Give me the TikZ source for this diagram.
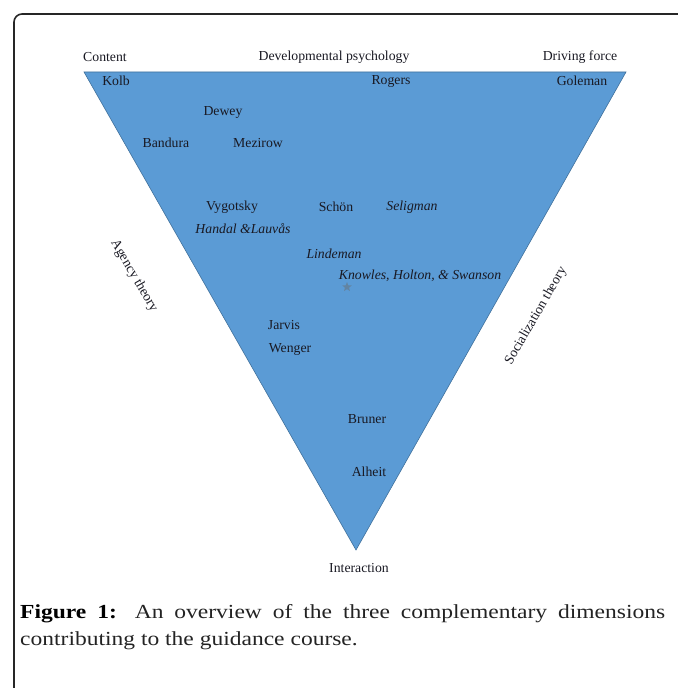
\documentclass[tikz,border=0pt]{standalone}
\usepackage{fontspec}
\setmainfont{Liberation Serif}
\newfontfamily\capfont[FakeStretch=1.18]{Liberation Serif}
\usetikzlibrary{shapes.geometric}
\definecolor{triblue}{RGB}{91,155,213}
\definecolor{triedge}{RGB}{65,113,156}
\definecolor{txt}{RGB}{25,25,35}
\definecolor{captxt}{RGB}{35,35,35}
\begin{document}
\begin{tikzpicture}[x=1bp,y=-1bp,
  lbl/.style={inner sep=0pt, text=txt, font=\fontsize{13.8}{16}\selectfont},
  ilbl/.style={lbl, font=\fontsize{13.8}{16}\selectfont\itshape},
  frameline/.style={line width=1.6bp, draw=black!85, rounded corners=8bp}]
\useasboundingbox (0,0) rectangle (678,688);
\draw[frameline] (14,688) -- (14,14) -- (678,14);
\fill[triblue, draw=triedge, line width=0.6bp] (84,72) -- (626,72) -- (356,550) -- cycle;
% dimension labels
\node[lbl] (content) at (105,57) {Content};
\node[lbl] (devpsy) at (334,57) {Developmental psychology};
\node[lbl] (driving) at (580,57) {Driving force};
\node[lbl] (interaction) at (359,568) {Interaction};
\node[lbl, rotate=-60] (agency) at (134,276) {Agency theory};
\node[lbl, rotate=60] (social) at (536,316) {Socialization theory};
% names
\node[lbl] (kolb) at (116,81) {Kolb};
\node[lbl] (rogers) at (391,81) {Rogers};
\node[lbl] (goleman) at (582,81) {Goleman};
\node[lbl] (dewey) at (223,112) {Dewey};
\node[lbl] (bandura) at (166,143) {Bandura};
\node[lbl] (mezirow) at (258,143) {Mezirow};
\node[lbl] (vygotsky) at (232,207) {Vygotsky};
\node[lbl] (schon) at (336,207) {Schön};
\node[ilbl] (seligman) at (412,207) {Seligman};
\node[ilbl] (handal) at (243,229) {Handal \&Lauvås};
\node[ilbl] (lindeman) at (334,254) {Lindeman};
\node[ilbl] (knowles) at (420,276) {Knowles, Holton, \& Swanson};
\node[star, star points=5, star point ratio=2.3, fill=black!35!triblue!80!white, minimum size=10bp, inner sep=0pt] (star) at (347,287) {};
\node[lbl] (jarvis) at (284,325) {Jarvis};
\node[lbl] (wenger) at (290,349) {Wenger};
\node[lbl] (bruner) at (367,419) {Bruner};
\node[lbl] (alheit) at (369,472) {Alheit};
% caption
\node[anchor=base west, inner sep=0pt, text width=645bp, align=justify, text=captxt,
      font=\capfont\fontsize{20}{28}\selectfont] (caption) at (20,618)
  {\textbf{\color{black}Figure 1:} An overview of the three complementary dimensions\linebreak contributing to the guidance course.};
\end{tikzpicture}
\end{document}
